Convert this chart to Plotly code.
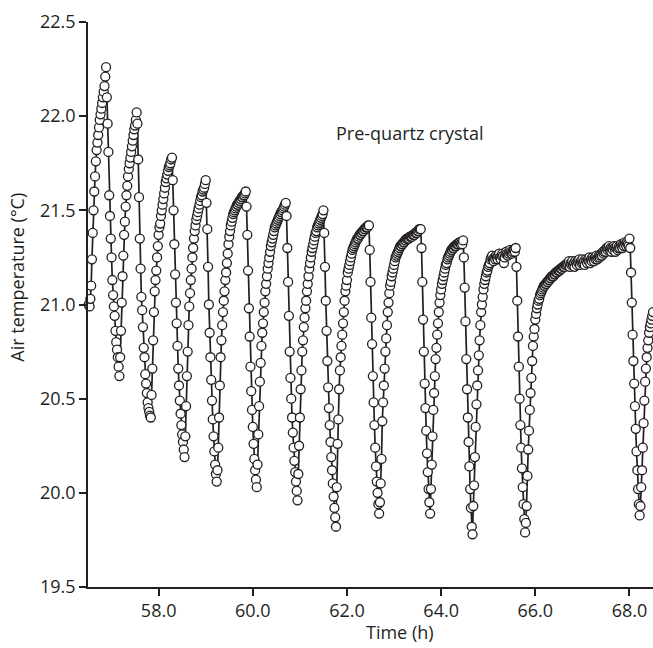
import plotly.graph_objects as go

START_HOUR = 56.5  # time origin of the minute stamps (h)

# ---- data: minute stamps (since 56.5 h) and air temperature (°C) per cycle ----
seg00_min = [1, 2, 3, 4, 5, 6, 7, 8, 9, 10, 11, 12, 13, 14, 15, 16, 17, 18, 19, 20,
             21, 22, 23, 24, 25, 26, 27, 28, 29, 30, 31, 32, 33, 34, 35, 36, 37, 38, 39]
seg00_temp = [21.00, 20.99, 21.03, 21.10, 21.24, 21.38, 21.50, 21.60, 21.68, 21.76,
              21.82, 21.86, 21.90, 21.94, 21.98, 22.01, 22.04, 22.07, 22.10, 22.13,
              22.16, 22.21,
              22.26, 22.10, 21.96, 21.81, 21.58, 21.47, 21.35, 21.25, 21.13, 21.05,
              20.99, 20.94, 20.86, 20.80, 20.76, 20.72, 20.67]

seg01_min = [40, 41, 42, 43, 44, 45, 46, 47, 48, 49, 50, 51, 52, 53, 54, 55, 56, 57, 58, 59,
             60, 61, 62, 63, 64, 65, 66, 67, 68, 69, 70, 71, 72, 73, 74, 75, 76, 77, 78, 79]
seg01_temp = [20.62, 20.72, 20.86, 21.01, 21.15, 21.26, 21.37, 21.44, 21.52, 21.58,
              21.63, 21.68, 21.72, 21.75, 21.78, 21.81, 21.84, 21.87, 21.90, 21.93,
              21.95, 21.98,
              22.02, 21.96, 21.77, 21.57, 21.35, 21.19, 21.04, 20.97, 20.88, 20.77,
              20.72, 20.63, 20.58, 20.53, 20.48, 20.45, 20.43, 20.41]

seg02_min = [80, 81, 82, 83, 84, 85, 86, 87, 88, 89, 90, 91, 92, 93, 94, 95, 96, 97, 98, 99,
             100, 101, 102, 103, 104, 105, 106, 107, 108, 109, 110, 111, 112, 113, 114,
             115, 116, 117, 118, 119, 120, 121, 122]
seg02_temp = [20.40, 20.52, 20.66, 20.81, 20.96, 21.07, 21.13, 21.18, 21.25, 21.31,
              21.37, 21.41, 21.43, 21.47, 21.50, 21.53, 21.56, 21.59, 21.62, 21.65,
              21.67, 21.69, 21.71, 21.73, 21.74, 21.75, 21.77,
              21.78, 21.66, 21.50, 21.32, 21.16, 21.01, 20.90, 20.78, 20.66, 20.57,
              20.49, 20.42, 20.36, 20.31, 20.27, 20.23]

seg03_min = [123, 124, 125, 126, 127, 128, 129, 130, 131, 132, 133, 134, 135, 136, 137,
             138, 139, 140, 141, 142, 143, 144, 145, 146, 147, 148, 149, 150, 151, 152,
             153, 154, 155, 156, 157, 158, 159, 160, 161, 162, 163]
seg03_temp = [20.19, 20.30, 20.46, 20.62, 20.75, 20.89, 20.99, 21.06, 21.13, 21.19,
              21.25, 21.30, 21.35, 21.39, 21.42, 21.45, 21.47, 21.49, 21.51, 21.53,
              21.55, 21.57, 21.58, 21.60, 21.61, 21.62, 21.64,
              21.66, 21.54, 21.40, 21.20, 21.00, 20.85, 20.72, 20.60, 20.49, 20.39,
              20.30, 20.22, 20.15, 20.10]

seg04_min = [164, 165, 166, 167, 168, 169, 170, 171, 172, 173, 174, 175, 176, 177, 178,
             179, 180, 181, 182, 183, 184, 185, 186, 187, 188, 189, 190, 191, 192, 193,
             194, 195, 196, 197, 198, 199, 200, 201, 202, 203, 204, 205, 206, 207, 208,
             209, 210, 211, 212, 213, 214]
seg04_temp = [20.06, 20.12, 20.24, 20.40, 20.57, 20.72, 20.81, 20.89, 20.96, 21.02,
              21.07, 21.13, 21.17, 21.22, 21.27, 21.32, 21.36, 21.39, 21.42, 21.44,
              21.46, 21.48, 21.49, 21.50, 21.51, 21.52, 21.53, 21.53, 21.54, 21.55,
              21.55, 21.56, 21.57, 21.57, 21.58, 21.58, 21.59,
              21.60, 21.52, 21.37, 21.18, 20.98, 20.83, 20.67, 20.54, 20.44, 20.35,
              20.26, 20.18, 20.12, 20.07]

seg05_min = [215, 216, 217, 218, 219, 220, 221, 222, 223, 224, 225, 226, 227, 228, 229,
             230, 231, 232, 233, 234, 235, 236, 237, 238, 239, 240, 241, 242, 243, 244,
             245, 246, 247, 248, 249, 250, 251, 252, 253, 254, 255, 256, 257, 258, 259,
             260, 261, 262, 263, 264, 265, 266]
seg05_temp = [20.03, 20.15, 20.31, 20.46, 20.59, 20.69, 20.78, 20.85, 20.90, 20.96,
              21.01, 21.07, 21.11, 21.15, 21.19, 21.22, 21.25, 21.28, 21.31, 21.33,
              21.35, 21.37, 21.39, 21.41, 21.42, 21.43, 21.44, 21.45, 21.46, 21.47,
              21.48, 21.49, 21.49, 21.50, 21.51, 21.52, 21.53,
              21.54, 21.47, 21.30, 21.12, 20.94, 20.75, 20.61, 20.50, 20.40, 20.32,
              20.24, 20.17, 20.11, 20.06, 20.01]

seg06_min = [267, 268, 269, 270, 271, 272, 273, 274, 275, 276, 277, 278, 279, 280, 281,
             282, 283, 284, 285, 286, 287, 288, 289, 290, 291, 292, 293, 294, 295, 296,
             297, 298, 299, 300, 301, 302, 303, 304, 305, 306, 307, 308, 309, 310, 311,
             312, 313, 314, 315]
seg06_temp = [19.96, 20.10, 20.25, 20.40, 20.55, 20.65, 20.75, 20.81, 20.88, 20.93,
              20.98, 21.02, 21.07, 21.11, 21.15, 21.19, 21.22, 21.25, 21.28, 21.30,
              21.32, 21.34, 21.36, 21.38, 21.39, 21.41, 21.42, 21.43, 21.44, 21.45,
              21.46, 21.47, 21.48,
              21.50, 21.38, 21.20, 21.02, 20.86, 20.70, 20.56, 20.45, 20.36, 20.27,
              20.19, 20.12, 20.05, 19.98, 19.92, 19.87]

seg07_min = [316, 317, 318, 319, 320, 321, 322, 323, 324, 325, 326, 327, 328, 329, 330,
             331, 332, 333, 334, 335, 336, 337, 338, 339, 340, 341, 342, 343, 344, 345,
             346, 347, 348, 349, 350, 351, 352, 353, 354, 355, 356, 357, 358, 359, 360,
             361, 362, 363, 364, 365, 366, 367, 368, 369, 370]
seg07_temp = [19.82, 20.03, 20.26, 20.39, 20.55, 20.65, 20.72, 20.78, 20.84, 20.90,
              20.96, 21.02, 21.07, 21.10, 21.13, 21.17, 21.19, 21.21, 21.23, 21.25,
              21.27, 21.29, 21.30, 21.31, 21.32, 21.33, 21.34, 21.35, 21.35, 21.36,
              21.37, 21.37, 21.38, 21.38, 21.39, 21.39, 21.40, 21.40, 21.41, 21.41,
              21.41, 21.42,
              21.42, 21.29, 21.12, 20.93, 20.79, 20.62, 20.48, 20.36, 20.24, 20.14,
              20.06, 20.00, 19.94]

seg08_min = [371, 372, 373, 374, 375, 376, 377, 378, 379, 380, 381, 382, 383, 384, 385,
             386, 387, 388, 389, 390, 391, 392, 393, 394, 395, 396, 397, 398, 399, 400,
             401, 402, 403, 404, 405, 406, 407, 408, 409, 410, 411, 412, 413, 414, 415,
             416, 417, 418, 419, 420, 421, 422, 423, 424, 425, 426, 427, 428, 429, 430,
             431, 432, 433, 434, 435]
seg08_temp = [19.89, 19.95, 20.05, 20.18, 20.38, 20.48, 20.57, 20.66, 20.75, 20.82,
              20.89, 20.96, 21.01, 21.06, 21.10, 21.12, 21.15, 21.17, 21.19, 21.21,
              21.23, 21.25, 21.26, 21.27, 21.28, 21.29, 21.30, 21.31, 21.31, 21.32,
              21.32, 21.33, 21.33, 21.34, 21.34, 21.35, 21.35, 21.35, 21.35, 21.36,
              21.36, 21.36, 21.36, 21.37, 21.37, 21.37, 21.38, 21.38, 21.38, 21.39,
              21.39, 21.40, 21.40,
              21.40, 21.30, 21.12, 20.92, 20.75, 20.58, 20.45, 20.33, 20.21, 20.11,
              20.02, 19.95]

seg09_min = [436, 437, 438, 439, 440, 441, 442, 443, 444, 445, 446, 447, 448, 449, 450,
             451, 452, 453, 454, 455, 456, 457, 458, 459, 460, 461, 462, 463, 464, 465,
             466, 467, 468, 469, 470, 471, 472, 473, 474, 475, 476, 477, 478, 479, 480,
             481, 482, 483, 484, 485, 486, 487, 488, 489]
seg09_temp = [19.89, 20.02, 20.15, 20.30, 20.44, 20.53, 20.62, 20.71, 20.77, 20.84,
              20.90, 20.96, 21.01, 21.05, 21.08, 21.11, 21.13, 21.15, 21.17, 21.19,
              21.21, 21.22, 21.24, 21.25, 21.26, 21.27, 21.28, 21.29, 21.29, 21.30,
              21.30, 21.31, 21.31, 21.31, 21.32, 21.32, 21.32, 21.33, 21.33, 21.32,
              21.33, 21.32,
              21.34, 21.25, 21.09, 20.91, 20.71, 20.55, 20.40, 20.27, 20.14, 20.02,
              19.92, 19.82]

seg10_min = [490, 491, 492, 493, 494, 495, 496, 497, 498, 499, 500, 501, 502, 503, 504,
             505, 506, 507, 508, 509, 510, 511, 512, 513, 514, 515, 516, 517, 518, 519,
             520, 521, 522, 523, 524, 525, 526, 527, 528, 529, 530, 531, 532, 533, 534,
             535, 536, 537, 538, 539, 540, 541, 542, 543, 544, 545, 546, 547, 548, 549,
             550, 551, 552, 553, 554, 555, 556]
seg10_temp = [19.78, 19.93, 20.04, 20.19, 20.35, 20.47, 20.57, 20.65, 20.73, 20.81,
              20.89, 20.96, 21.00, 21.04, 21.08, 21.11, 21.13, 21.15, 21.17, 21.18,
              21.20, 21.21, 21.22, 21.24, 21.25, 21.26, 21.24, 21.23, 21.25, 21.24,
              21.26, 21.25, 21.24, 21.26, 21.27, 21.25, 21.24, 21.26, 21.27, 21.26,
              21.22, 21.25, 21.27, 21.28, 21.27, 21.26, 21.27, 21.28, 21.29, 21.28,
              21.27, 21.28, 21.29, 21.29, 21.28,
              21.30, 21.20, 21.02, 20.83, 20.67, 20.50, 20.36, 20.24, 20.13, 20.03,
              19.94, 19.86]

seg11_min = [557, 558, 559, 560, 561, 562, 563, 564, 565, 566, 567, 568, 569, 570, 571,
             572, 573, 574, 575, 576, 577, 578, 579, 580, 581, 582, 583, 584, 585, 586,
             587, 588, 589, 590, 591, 592, 593, 594, 595, 596, 597, 598, 599, 600, 601,
             602, 603, 604, 605, 606, 607, 608, 609, 610, 611, 612, 613, 614, 615, 616,
             617, 618, 619, 620, 621, 622, 623, 624, 625, 626, 627, 628, 629, 630, 631,
             632, 633, 634, 635, 636, 637, 638, 639, 640, 641, 642, 643, 644, 645, 646,
             647, 648, 649, 650, 651, 652, 653, 654, 655, 656, 657, 658, 659, 660, 661,
             662, 663, 664, 665, 666, 667, 668, 669, 670, 671, 672, 673, 674, 675, 676,
             677, 678, 679, 680, 681, 682, 683, 684, 685, 686, 687, 688, 689, 690, 691,
             692, 693, 694, 695, 696, 697, 698, 699, 700, 701, 702]
seg11_temp = [19.79, 19.84, 19.93, 20.09, 20.23, 20.33, 20.44, 20.53, 20.61, 20.70,
              20.78, 20.83, 20.87, 20.92, 20.95, 20.98, 21.00, 21.02, 21.03, 21.05,
              21.06, 21.07, 21.08, 21.09, 21.10, 21.10, 21.11, 21.11, 21.12, 21.12,
              21.13, 21.13, 21.14, 21.14, 21.15, 21.15, 21.15, 21.16, 21.16, 21.17,
              21.17, 21.17, 21.18, 21.18, 21.18, 21.19, 21.19, 21.19, 21.20, 21.20,
              21.20, 21.21, 21.21, 21.21, 21.22, 21.21, 21.23, 21.20, 21.22, 21.21,
              21.23, 21.21, 21.22, 21.20, 21.23, 21.22, 21.21, 21.23, 21.22, 21.24,
              21.21, 21.23, 21.22, 21.24, 21.22, 21.23, 21.21, 21.24, 21.23, 21.22,
              21.24, 21.23, 21.25, 21.22, 21.24, 21.23, 21.25, 21.24, 21.23, 21.25,
              21.24, 21.26, 21.24, 21.25, 21.26, 21.25, 21.26, 21.27, 21.26, 21.28,
              21.27, 21.28, 21.29, 21.28, 21.30, 21.29, 21.30, 21.31, 21.29, 21.30,
              21.28, 21.30, 21.29, 21.31, 21.30, 21.28, 21.30, 21.31, 21.29, 21.30,
              21.31, 21.30, 21.32, 21.31, 21.30, 21.32, 21.31, 21.33, 21.32, 21.31,
              21.33, 21.32, 21.31,
              21.35, 21.30, 21.17, 21.01, 20.84, 20.70, 20.58, 20.46, 20.34, 20.22,
              20.12, 20.02, 19.94]

seg12_min = [703, 704, 705, 706, 707, 708, 709, 710, 711, 712, 713, 714, 715, 716, 717,
             718, 719, 720]
seg12_temp = [19.88, 19.93, 20.03, 20.12, 20.24, 20.37, 20.49, 20.59, 20.66, 20.72,
              20.77, 20.81, 20.85, 20.88, 20.90, 20.92, 20.94, 20.96]

X_TICKS = [58.0, 60.0, 62.0, 64.0, 66.0, 68.0]
X_TICK_LABELS = ["58.0", "60.0", "62.0", "64.0", "66.0", "68.0"]
Y_TICKS = [19.5, 20.0, 20.5, 21.0, 21.5, 22.0, 22.5]
Y_TICK_LABELS = ["19.5", "20.0", "20.5", "21.0", "21.5", "22.0", "22.5"]
X_TITLE = "Time (h)"
Y_TITLE = "Air temperature (°C)"
LABEL = "Pre-quartz crystal"

segments = [
    (seg00_min, seg00_temp), (seg01_min, seg01_temp), (seg02_min, seg02_temp),
    (seg03_min, seg03_temp), (seg04_min, seg04_temp), (seg05_min, seg05_temp),
    (seg06_min, seg06_temp), (seg07_min, seg07_temp), (seg08_min, seg08_temp),
    (seg09_min, seg09_temp), (seg10_min, seg10_temp), (seg11_min, seg11_temp),
    (seg12_min, seg12_temp),
]

hours, temps = [], []
for i, (mins, tvals) in enumerate(segments):
    assert len(mins) == len(tvals), (i, len(mins), len(tvals))
    hours.extend(START_HOUR + m / 60.0 for m in mins)
    temps.extend(tvals)

INK = "#231f20"
FONT = "Open Sans, Lato, sans-serif"
FS = 18

fig = go.Figure()
fig.add_trace(go.Scatter(
    x=hours, y=temps, mode="lines+markers",
    line=dict(color=INK, width=1.7),
    marker=dict(symbol="circle", size=9, color="white",
                line=dict(color=INK, width=1.3)),
    cliponaxis=False, hoverinfo="skip", showlegend=False,
))

fig.update_layout(
    width=653, height=648,
    margin=dict(l=88, r=0, t=22, b=61, pad=0),
    paper_bgcolor="white", plot_bgcolor="white",
    font=dict(family=FONT, size=FS, color=INK),
    showlegend=False,
    xaxis=dict(range=[56.5, 68.5], tickvals=X_TICKS, ticktext=X_TICK_LABELS,
               showline=True, linecolor=INK, linewidth=1.5,
               ticks="outside", ticklen=7, tickwidth=1.5, tickcolor=INK,
               showgrid=False, zeroline=False, fixedrange=True),
    yaxis=dict(range=[19.5, 22.5], tickvals=Y_TICKS, ticktext=Y_TICK_LABELS,
               showline=True, linecolor=INK, linewidth=1.5,
               ticks="outside", ticklen=7, tickwidth=1.5, tickcolor=INK,
               showgrid=False, zeroline=False, fixedrange=True),
    annotations=[
        dict(text=Y_TITLE, xref="paper", yref="paper", x=-0.126, y=0.549,
             textangle=-90, showarrow=False, xanchor="center", yanchor="middle",
             font=dict(family=FONT, size=FS, color=INK)),
        dict(text=X_TITLE, xref="paper", yref="paper", x=0.552, y=-0.08,
             showarrow=False, xanchor="center", yanchor="middle",
             font=dict(family=FONT, size=FS, color=INK)),
        dict(text=LABEL, xref="x", yref="y", x=63.34, y=21.91,
             showarrow=False, xanchor="center", yanchor="middle",
             font=dict(family=FONT, size=FS, color=INK)),
    ],
)

fig.write_html("out.html", config={"displayModeBar": False},
               post_script="document.body.style.margin='0';document.body.style.padding='0';")
